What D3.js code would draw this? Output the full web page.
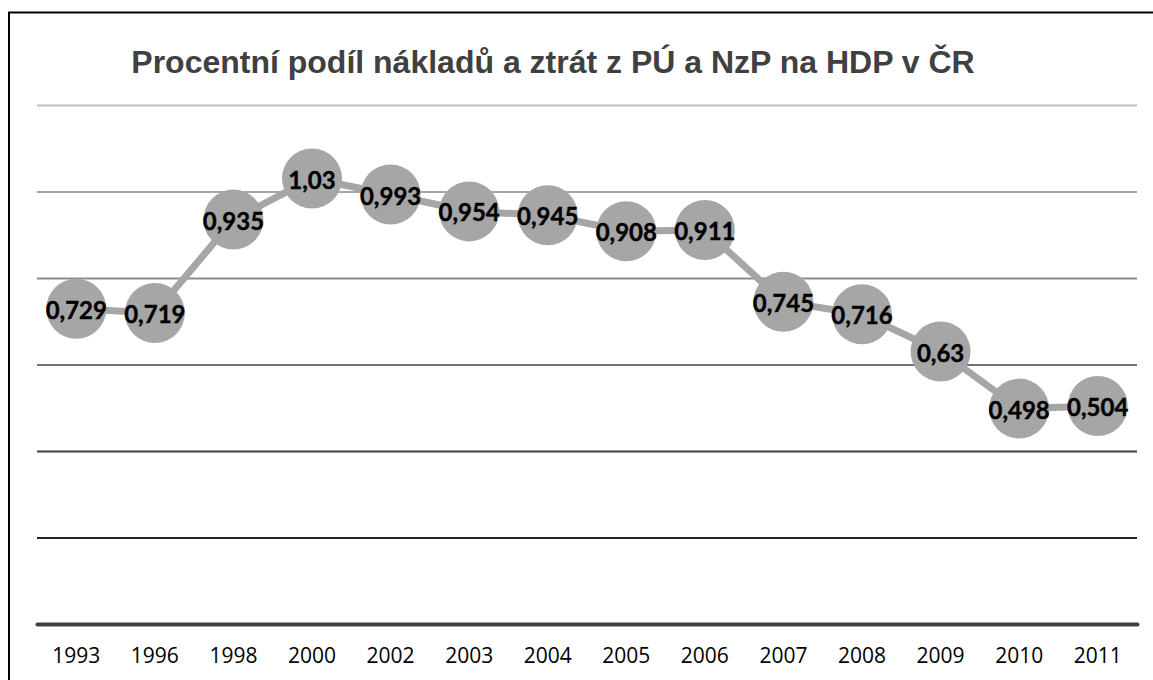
<!DOCTYPE html>
<html>
<head>
<meta charset="utf-8">
<script src="https://cdn.jsdelivr.net/npm/d3@7"></script>
<style>
  body { margin: 0; background: #fff; }
  svg { display: block; }
</style>
</head>
<body>
<div id="chart"></div>
<script>
// chart data
const years = ["1993", "1996", "1998", "2000", "2002", "2003", "2004", "2005", "2006", "2007", "2008", "2009", "2010", "2011"];
const shares = [0.729, 0.719, 0.935, 1.03, 0.993, 0.954, 0.945, 0.908, 0.911, 0.745, 0.716, 0.63, 0.498, 0.504];
const yTicks = [0.2, 0.4, 0.6, 0.8, 1.0, 1.2];
const title = "Procentní podíl nákladů a ztrát z PÚ a NzP na HDP v ČR";

// gridlines get darker toward the bottom
const gridColors = { 0.2: "#262626", 0.4: "#404040", 0.6: "#737373", 0.8: "#8c8c8c", 1: "#a6a6a6", 1.2: "#bfbfbf" };

const W = 1153, H = 680;
const plotLeft = 37, plotRight = 1137, plotTop = 105, plotBottom = 624;

const svg = d3.select("#chart")
  .append("svg")
  .attr("width", W)
  .attr("height", H);

// outer border (chart is cropped on right/bottom)
svg.append("rect")
  .attr("x", 9)
  .attr("y", 12.5)
  .attr("width", W + 20)
  .attr("height", H + 20)
  .attr("fill", "none")
  .attr("stroke", "#000")
  .attr("stroke-width", 2);

const x = d3.scaleBand()
  .domain(years)
  .range([plotLeft, plotRight])
  .padding(0);

const y = d3.scaleLinear()
  .domain([0, 1.2])
  .range([plotBottom, plotTop]);

// horizontal gridlines
const grid = svg.append("g")
  .attr("transform", "translate(" + plotLeft + ",0)")
  .call(d3.axisLeft(y).tickValues(yTicks).tickSize(-(plotRight - plotLeft)).tickFormat(""));
grid.select(".domain").remove();
grid.selectAll(".tick line")
  .attr("stroke", d => gridColors[d])
  .attr("stroke-width", 2);

// x axis
const xAxis = svg.append("g")
  .attr("transform", "translate(0," + plotBottom + ")")
  .call(d3.axisBottom(x).tickSize(0).tickPadding(24));
xAxis.select(".domain")
  .attr("stroke", "#404040")
  .attr("stroke-width", 4)
  .attr("stroke-linecap", "round");
xAxis.selectAll(".tick text")
  .attr("font-family", "'Open Sans', sans-serif")
  .attr("font-size", 21)
  .attr("fill", "#000");

// the line
const line = d3.line()
  .x((d, i) => x(years[i]) + x.bandwidth() / 2)
  .y(d => y(d));

svg.append("path")
  .datum(shares)
  .attr("d", line)
  .attr("fill", "none")
  .attr("stroke", "#a6a6a6")
  .attr("stroke-width", 7);

// markers
svg.selectAll(".dot")
  .data(shares)
  .enter().append("circle")
  .attr("class", "dot")
  .attr("cx", (d, i) => x(years[i]) + x.bandwidth() / 2)
  .attr("cy", d => y(d))
  .attr("r", 30)
  .attr("fill", "#a6a6a6");

// value labels
svg.selectAll(".lbl")
  .data(shares)
  .enter().append("text")
  .attr("class", "lbl")
  .attr("x", (d, i) => x(years[i]) + x.bandwidth() / 2)
  .attr("y", d => y(d) + 10)
  .attr("text-anchor", "middle")
  .attr("font-family", "Lato, 'Open Sans', sans-serif")
  .attr("font-weight", "bold")
  .attr("font-size", 24)
  .attr("stroke", "#000")
  .attr("stroke-width", 0.4)
  .attr("fill", "#000")
  .text(d => String(d).replace(".", ","));

// title
svg.append("text")
  .attr("x", 553)
  .attr("y", 73)
  .attr("text-anchor", "middle")
  .attr("font-family", "'Liberation Sans', Arial, sans-serif")
  .attr("font-weight", "bold")
  .attr("font-size", 32)
  .attr("fill", "#404040")
  .text(title);
</script>
</body>
</html>
